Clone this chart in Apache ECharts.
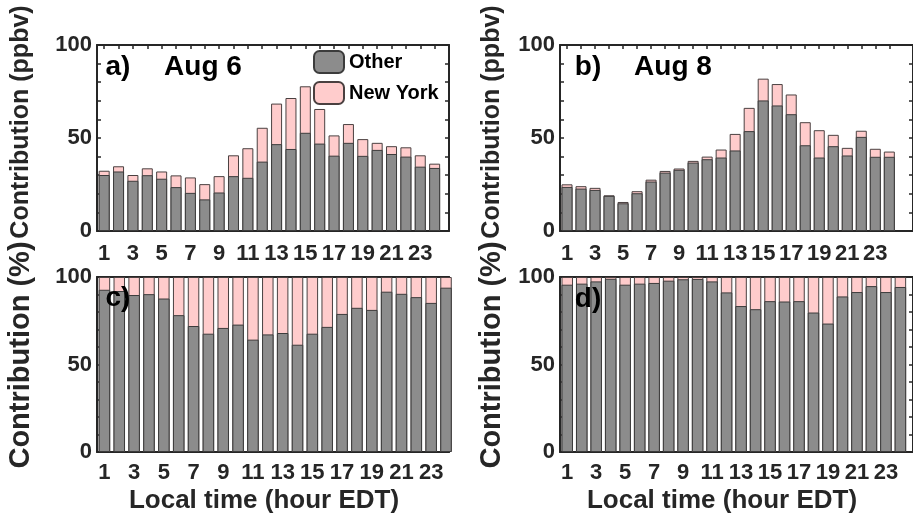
<!DOCTYPE html>
<html>
<head>
<meta charset="utf-8">
<script src="https://cdn.jsdelivr.net/npm/echarts@6/dist/echarts.min.js"></script>
<style>
  html, body { margin: 0; padding: 0; background: #fff; }
  #chart { width: 913px; height: 524px; }
</style>
</head>
<body>
<div id="chart"></div>
<script>
// hours of the day (EDT)
var hours = [1, 2, 3, 4, 5, 6, 7, 8, 9, 10, 11, 12, 13, 14, 15, 16, 17, 18, 19, 20, 21, 22, 23, 24];
var hourLabels = [1, 3, 5, 7, 9, 11, 13, 15, 17, 19, 21, 23];
var yLabels = [0, 50, 100];

// a) Aug 6, ppbv
var otherAug6 = [30.1, 32, 27, 30, 28.1, 23.6, 20.5, 17, 20.7, 29.5, 28.6, 37.3, 46.7, 44.1, 52.8, 47, 40.5, 47.4, 40.4, 43.6, 41.4, 40, 34.6, 33.9];
var nyAug6 = [2.3, 2.8, 3.1, 3.7, 3.9, 6.3, 8.3, 8.2, 8.8, 11.2, 15.9, 18.2, 21.8, 27.4, 25, 18.6, 10.9, 10.1, 9, 3.8, 4.2, 5, 6.1, 2.3];
// b) Aug 8, ppbv
var otherAug8 = [23.7, 22.8, 22.1, 18.9, 14.9, 20.3, 26.6, 31.4, 32.9, 36.8, 38.6, 39.5, 43.3, 53.7, 70.2, 67.5, 62.8, 46.1, 39.5, 45.6, 40.6, 50.6, 39.9, 39.9];
var nyAug8 = [1.4, 1.3, 1.1, 0.3, 0.7, 1.1, 1.0, 0.9, 0.7, 0.9, 1.4, 4.3, 8.9, 12.5, 11.7, 11.5, 10.6, 12.4, 14.7, 6.1, 4.1, 3.3, 4.3, 2.8];
// c) Aug 6, percent
var otherPctAug6 = [92.7, 92, 89.7, 90.2, 87.7, 78.2, 72, 67.6, 70.9, 72.8, 64.2, 67.2, 68, 61.3, 67.6, 71.5, 78.9, 82.4, 81.2, 91.6, 90.4, 88.5, 85.2, 93.9];
var nyPctAug6 = [7.3, 8, 10.3, 9.8, 12.3, 21.8, 28, 32.4, 29.1, 27.2, 35.8, 32.8, 32, 38.7, 32.4, 28.5, 21.1, 17.6, 18.8, 8.4, 9.6, 11.5, 14.8, 6.1];
// d) Aug 8, percent
var otherPctAug8 = [95.6, 96.2, 97.5, 99, 95.6, 96.2, 96.6, 97.9, 98.7, 98.9, 97.5, 91.2, 83.4, 81.6, 86.2, 86, 86.2, 79.7, 73.4, 88.9, 91.4, 94.8, 91.4, 94.3];
var nyPctAug8 = [4.4, 3.8, 2.5, 1, 4.4, 3.8, 3.4, 2.1, 1.3, 1.1, 2.5, 8.8, 16.6, 18.4, 13.8, 14, 13.8, 20.3, 26.6, 11.1, 8.6, 5.2, 8.6, 5.7];

var FONT = '"Liberation Sans", Arial, sans-serif';
var INK = '#262626';

// right-hand panels run off the edge of the picture
var panels = [
    {grid: {left: 97, top: 45, width: 352, height: 186}, xmax: 25, other: otherAug6, ny: nyAug6, bw: 11, lm: 12},
    {grid: {left: 560, top: 45, width: 362, height: 186}, xmax: 25.69, other: otherAug8, ny: nyAug8, bw: 11, lm: 12},
    {grid: {left: 97, top: 277, width: 352, height: 175}, xmax: 24.2, other: otherPctAug6, ny: nyPctAug6, bw: 11.5, lm: 10},
    {grid: {left: 560, top: 277, width: 362, height: 175}, xmax: 24.87, other: otherPctAug8, ny: nyPctAug8, bw: 11.5, lm: 10}
];

function pairs(vals) {
    return hours.map(function (h, i) { return [h, vals[i]]; });
}

var grids = [], xAxes = [], yAxes = [], series = [];
panels.forEach(function (p, i) {
    grids.push(p.grid);
    var line = {show: true, onZero: false, lineStyle: {color: INK, width: 2}};
    var tick = {show: true, inside: true, length: 4, customValues: hours, lineStyle: {color: INK, width: 1.5}};
    xAxes.push({
        gridIndex: i, type: 'value', position: 'bottom', min: 0.5, max: p.xmax,
        axisLine: line, axisTick: tick, splitLine: {show: false},
        axisLabel: {customValues: hourLabels, margin: p.lm, color: INK, fontFamily: FONT, fontWeight: 'bold', fontSize: 22}
    });
    xAxes.push({
        gridIndex: i, type: 'value', position: 'top', min: 0.5, max: p.xmax,
        axisLine: line, axisTick: tick, splitLine: {show: false}, axisLabel: {show: false}
    });
    var ytick = {show: true, inside: true, length: 4, lineStyle: {color: INK, width: 1.5}};
    yAxes.push({
        gridIndex: i, type: 'value', position: 'left', min: 0, max: 100, interval: 10,
        axisLine: line, axisTick: ytick, splitLine: {show: false},
        axisLabel: {customValues: yLabels, margin: 5, color: INK, fontFamily: FONT, fontWeight: 'bold', fontSize: 22}
    });
    yAxes.push({
        gridIndex: i, type: 'value', position: 'right', min: 0, max: 100, interval: 10,
        axisLine: line, axisTick: ytick, splitLine: {show: false}, axisLabel: {show: false}
    });
    // New York sits on top of Other: draw the full column in pink, Other over it
    var totals = p.other.map(function (v, k) { return +(v + p.ny[k]).toFixed(2); });
    series.push({
        name: 'New York', type: 'bar', xAxisIndex: 2 * i, yAxisIndex: 2 * i,
        barWidth: p.bw, barGap: '-100%', data: pairs(totals),
        itemStyle: {color: '#ffcccc', borderColor: '#4a4040', borderWidth: 1}
    });
    series.push({
        name: 'Other', type: 'bar', xAxisIndex: 2 * i, yAxisIndex: 2 * i,
        barWidth: p.bw, barGap: '-100%', data: pairs(p.other),
        itemStyle: {color: '#8c8c8c', borderColor: '#3c3c3c', borderWidth: 1}
    });
});

function txt(x, y, s, size, rot, color) {
    return {
        type: 'text', x: x, y: y, rotation: rot || 0, z: 100,
        style: {text: s, fill: color || INK, fontFamily: FONT, fontWeight: 'bold', fontSize: size,
                textAlign: 'center', textVerticalAlign: 'middle', verticalAlign: 'middle'}
    };
}

var chart = echarts.init(document.getElementById('chart'), null, {renderer: 'canvas'});
chart.setOption({
    animation: false,
    backgroundColor: '#fff',
    grid: grids,
    xAxis: xAxes,
    yAxis: yAxes,
    series: series,
    legend: {
        data: ['Other', 'New York'], orient: 'vertical', left: 313, top: 50,
        itemWidth: 30, itemHeight: 22, itemGap: 7, padding: 0,
        textStyle: {color: '#000', fontFamily: FONT, fontWeight: 'bold', fontSize: 20}
    },
    graphic: [
        txt(118, 67, 'a)', 28, 0, '#000'),
        txt(203, 67, 'Aug 6', 28, 0, '#000'),
        txt(588, 67, 'b)', 28, 0, '#000'),
        txt(673, 67, 'Aug 8', 28, 0, '#000'),
        txt(118, 298, 'c)', 28, 0, '#000'),
        txt(588, 299, 'd)', 28, 0, '#000'),
        txt(21, 122, 'Contribution (ppbv)', 25, Math.PI / 2),
        txt(21, 355, 'Contribution (%)', 29, Math.PI / 2),
        txt(492, 122, 'Contribution (ppbv)', 25, Math.PI / 2),
        txt(492, 355, 'Contribution (%)', 29, Math.PI / 2),
        txt(264, 501, 'Local time (hour EDT)', 26),
        txt(722, 501, 'Local time (hour EDT)', 26)
    ]
});
</script>
</body>
</html>
